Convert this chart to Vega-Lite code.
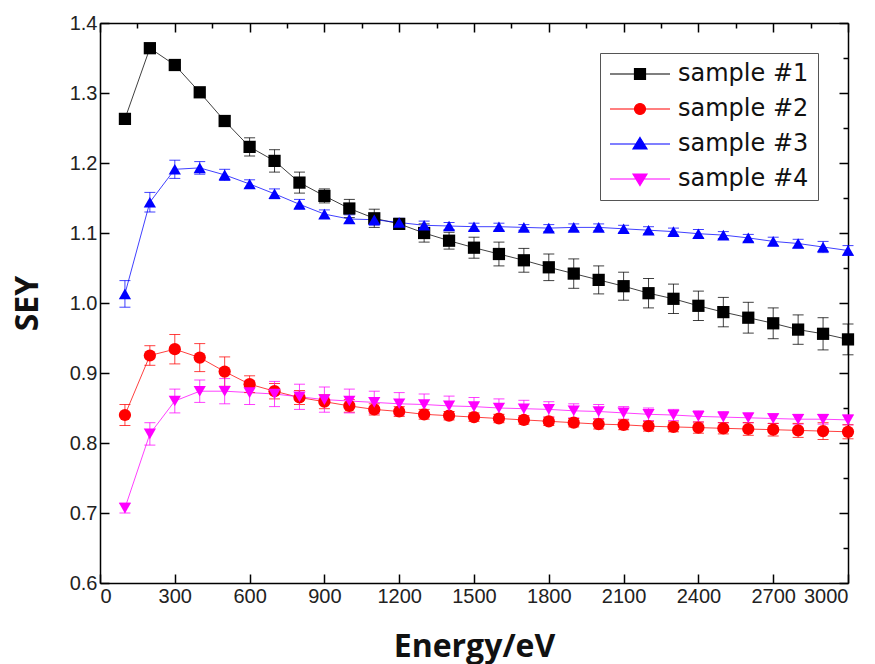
{
"$schema": "https://vega.github.io/schema/vega-lite/v6.json",
"width": 748, "height": 560,
"autosize": {"type": "none"},
"padding": {"left": 100, "top": 23, "right": 27, "bottom": 81},
"background": "white",
"data": {"values": [
{"s":"sample #1","e":100,"y":1.263,"lo":1.257,"hi":1.269},
{"s":"sample #1","e":200,"y":1.364,"lo":1.357,"hi":1.371},
{"s":"sample #1","e":300,"y":1.340,"lo":1.336,"hi":1.344},
{"s":"sample #1","e":400,"y":1.301,"lo":1.297,"hi":1.305},
{"s":"sample #1","e":500,"y":1.260,"lo":1.253,"hi":1.267},
{"s":"sample #1","e":600,"y":1.223,"lo":1.210,"hi":1.236},
{"s":"sample #1","e":700,"y":1.203,"lo":1.187,"hi":1.219},
{"s":"sample #1","e":800,"y":1.172,"lo":1.157,"hi":1.187},
{"s":"sample #1","e":900,"y":1.153,"lo":1.143,"hi":1.163},
{"s":"sample #1","e":1000,"y":1.135,"lo":1.122,"hi":1.148},
{"s":"sample #1","e":1100,"y":1.121,"lo":1.108,"hi":1.134},
{"s":"sample #1","e":1200,"y":1.113,"lo":1.107,"hi":1.119},
{"s":"sample #1","e":1300,"y":1.100,"lo":1.087,"hi":1.113},
{"s":"sample #1","e":1400,"y":1.089,"lo":1.077,"hi":1.101},
{"s":"sample #1","e":1500,"y":1.079,"lo":1.064,"hi":1.094},
{"s":"sample #1","e":1600,"y":1.070,"lo":1.053,"hi":1.087},
{"s":"sample #1","e":1700,"y":1.061,"lo":1.044,"hi":1.078},
{"s":"sample #1","e":1800,"y":1.051,"lo":1.032,"hi":1.070},
{"s":"sample #1","e":1900,"y":1.042,"lo":1.021,"hi":1.063},
{"s":"sample #1","e":2000,"y":1.033,"lo":1.013,"hi":1.053},
{"s":"sample #1","e":2100,"y":1.024,"lo":1.004,"hi":1.044},
{"s":"sample #1","e":2200,"y":1.014,"lo":0.993,"hi":1.035},
{"s":"sample #1","e":2300,"y":1.006,"lo":0.985,"hi":1.027},
{"s":"sample #1","e":2400,"y":0.996,"lo":0.975,"hi":1.017},
{"s":"sample #1","e":2500,"y":0.987,"lo":0.966,"hi":1.008},
{"s":"sample #1","e":2600,"y":0.979,"lo":0.957,"hi":1.001},
{"s":"sample #1","e":2700,"y":0.971,"lo":0.949,"hi":0.993},
{"s":"sample #1","e":2800,"y":0.962,"lo":0.941,"hi":0.983},
{"s":"sample #1","e":2900,"y":0.956,"lo":0.933,"hi":0.979},
{"s":"sample #1","e":3000,"y":0.948,"lo":0.926,"hi":0.970},
{"s":"sample #2","e":100,"y":0.840,"lo":0.825,"hi":0.855},
{"s":"sample #2","e":200,"y":0.925,"lo":0.911,"hi":0.939},
{"s":"sample #2","e":300,"y":0.934,"lo":0.913,"hi":0.955},
{"s":"sample #2","e":400,"y":0.922,"lo":0.902,"hi":0.942},
{"s":"sample #2","e":500,"y":0.902,"lo":0.881,"hi":0.923},
{"s":"sample #2","e":600,"y":0.884,"lo":0.872,"hi":0.896},
{"s":"sample #2","e":700,"y":0.874,"lo":0.863,"hi":0.885},
{"s":"sample #2","e":800,"y":0.865,"lo":0.855,"hi":0.875},
{"s":"sample #2","e":900,"y":0.859,"lo":0.849,"hi":0.869},
{"s":"sample #2","e":1000,"y":0.853,"lo":0.844,"hi":0.862},
{"s":"sample #2","e":1100,"y":0.848,"lo":0.840,"hi":0.856},
{"s":"sample #2","e":1200,"y":0.845,"lo":0.838,"hi":0.852},
{"s":"sample #2","e":1300,"y":0.841,"lo":0.834,"hi":0.848},
{"s":"sample #2","e":1400,"y":0.839,"lo":0.833,"hi":0.845},
{"s":"sample #2","e":1500,"y":0.837,"lo":0.831,"hi":0.843},
{"s":"sample #2","e":1600,"y":0.835,"lo":0.829,"hi":0.841},
{"s":"sample #2","e":1700,"y":0.833,"lo":0.827,"hi":0.839},
{"s":"sample #2","e":1800,"y":0.831,"lo":0.825,"hi":0.837},
{"s":"sample #2","e":1900,"y":0.829,"lo":0.823,"hi":0.835},
{"s":"sample #2","e":2000,"y":0.827,"lo":0.820,"hi":0.834},
{"s":"sample #2","e":2100,"y":0.826,"lo":0.819,"hi":0.833},
{"s":"sample #2","e":2200,"y":0.824,"lo":0.817,"hi":0.831},
{"s":"sample #2","e":2300,"y":0.823,"lo":0.816,"hi":0.830},
{"s":"sample #2","e":2400,"y":0.822,"lo":0.814,"hi":0.830},
{"s":"sample #2","e":2500,"y":0.821,"lo":0.813,"hi":0.829},
{"s":"sample #2","e":2600,"y":0.820,"lo":0.811,"hi":0.829},
{"s":"sample #2","e":2700,"y":0.819,"lo":0.810,"hi":0.828},
{"s":"sample #2","e":2800,"y":0.818,"lo":0.808,"hi":0.828},
{"s":"sample #2","e":2900,"y":0.817,"lo":0.805,"hi":0.829},
{"s":"sample #2","e":3000,"y":0.816,"lo":0.806,"hi":0.826},
{"s":"sample #3","e":100,"y":1.013,"lo":0.994,"hi":1.032},
{"s":"sample #3","e":200,"y":1.144,"lo":1.130,"hi":1.158},
{"s":"sample #3","e":300,"y":1.191,"lo":1.178,"hi":1.204},
{"s":"sample #3","e":400,"y":1.193,"lo":1.184,"hi":1.202},
{"s":"sample #3","e":500,"y":1.183,"lo":1.175,"hi":1.191},
{"s":"sample #3","e":600,"y":1.170,"lo":1.164,"hi":1.176},
{"s":"sample #3","e":700,"y":1.156,"lo":1.149,"hi":1.163},
{"s":"sample #3","e":800,"y":1.141,"lo":1.134,"hi":1.148},
{"s":"sample #3","e":900,"y":1.127,"lo":1.121,"hi":1.133},
{"s":"sample #3","e":1000,"y":1.120,"lo":1.114,"hi":1.126},
{"s":"sample #3","e":1100,"y":1.119,"lo":1.111,"hi":1.127},
{"s":"sample #3","e":1200,"y":1.115,"lo":1.109,"hi":1.121},
{"s":"sample #3","e":1300,"y":1.111,"lo":1.105,"hi":1.117},
{"s":"sample #3","e":1400,"y":1.110,"lo":1.105,"hi":1.115},
{"s":"sample #3","e":1500,"y":1.109,"lo":1.104,"hi":1.114},
{"s":"sample #3","e":1600,"y":1.109,"lo":1.104,"hi":1.114},
{"s":"sample #3","e":1700,"y":1.108,"lo":1.104,"hi":1.112},
{"s":"sample #3","e":1800,"y":1.107,"lo":1.102,"hi":1.112},
{"s":"sample #3","e":1900,"y":1.108,"lo":1.103,"hi":1.113},
{"s":"sample #3","e":2000,"y":1.108,"lo":1.103,"hi":1.113},
{"s":"sample #3","e":2100,"y":1.106,"lo":1.101,"hi":1.111},
{"s":"sample #3","e":2200,"y":1.104,"lo":1.099,"hi":1.109},
{"s":"sample #3","e":2300,"y":1.102,"lo":1.097,"hi":1.107},
{"s":"sample #3","e":2400,"y":1.099,"lo":1.093,"hi":1.105},
{"s":"sample #3","e":2500,"y":1.097,"lo":1.092,"hi":1.102},
{"s":"sample #3","e":2600,"y":1.093,"lo":1.088,"hi":1.098},
{"s":"sample #3","e":2700,"y":1.088,"lo":1.082,"hi":1.094},
{"s":"sample #3","e":2800,"y":1.085,"lo":1.079,"hi":1.091},
{"s":"sample #3","e":2900,"y":1.080,"lo":1.072,"hi":1.088},
{"s":"sample #3","e":3000,"y":1.075,"lo":1.068,"hi":1.082},
{"s":"sample #4","e":100,"y":0.707,"lo":0.700,"hi":0.714},
{"s":"sample #4","e":200,"y":0.813,"lo":0.797,"hi":0.829},
{"s":"sample #4","e":300,"y":0.860,"lo":0.843,"hi":0.877},
{"s":"sample #4","e":400,"y":0.874,"lo":0.858,"hi":0.890},
{"s":"sample #4","e":500,"y":0.874,"lo":0.856,"hi":0.892},
{"s":"sample #4","e":600,"y":0.872,"lo":0.855,"hi":0.889},
{"s":"sample #4","e":700,"y":0.870,"lo":0.852,"hi":0.888},
{"s":"sample #4","e":800,"y":0.866,"lo":0.848,"hi":0.884},
{"s":"sample #4","e":900,"y":0.862,"lo":0.844,"hi":0.880},
{"s":"sample #4","e":1000,"y":0.860,"lo":0.843,"hi":0.877},
{"s":"sample #4","e":1100,"y":0.858,"lo":0.842,"hi":0.874},
{"s":"sample #4","e":1200,"y":0.856,"lo":0.840,"hi":0.872},
{"s":"sample #4","e":1300,"y":0.855,"lo":0.840,"hi":0.870},
{"s":"sample #4","e":1400,"y":0.853,"lo":0.839,"hi":0.867},
{"s":"sample #4","e":1500,"y":0.852,"lo":0.839,"hi":0.865},
{"s":"sample #4","e":1600,"y":0.850,"lo":0.837,"hi":0.863},
{"s":"sample #4","e":1700,"y":0.849,"lo":0.837,"hi":0.861},
{"s":"sample #4","e":1800,"y":0.848,"lo":0.837,"hi":0.859},
{"s":"sample #4","e":1900,"y":0.846,"lo":0.836,"hi":0.856},
{"s":"sample #4","e":2000,"y":0.845,"lo":0.835,"hi":0.855},
{"s":"sample #4","e":2100,"y":0.843,"lo":0.834,"hi":0.852},
{"s":"sample #4","e":2200,"y":0.841,"lo":0.832,"hi":0.850},
{"s":"sample #4","e":2300,"y":0.840,"lo":0.832,"hi":0.848},
{"s":"sample #4","e":2400,"y":0.838,"lo":0.830,"hi":0.846},
{"s":"sample #4","e":2500,"y":0.837,"lo":0.829,"hi":0.845},
{"s":"sample #4","e":2600,"y":0.836,"lo":0.829,"hi":0.843},
{"s":"sample #4","e":2700,"y":0.835,"lo":0.828,"hi":0.842},
{"s":"sample #4","e":2800,"y":0.834,"lo":0.827,"hi":0.841},
{"s":"sample #4","e":2900,"y":0.834,"lo":0.827,"hi":0.841},
{"s":"sample #4","e":3000,"y":0.833,"lo":0.826,"hi":0.840}
]},
"config": {
  "view": {"stroke": null},
  "axis": {"domainColor": "#000", "domainWidth": 1.5, "tickColor": "#000", "tickWidth": 1.5, "labelFont": "Liberation Sans", "labelFontSize": 20, "labelColor": "#222", "grid": false, "titleFont": "Open Sans", "titleFontWeight": "bold", "titleFontSize": 32, "titleColor": "#111"},
  "legend": {"title": null, "orient": "top-right", "offset": 30, "strokeColor": "#555", "padding": 9,
    "labelFont": "DejaVu Sans", "labelFontSize": 24, "labelColor": "#111",
    "symbolSize": 400, "symbolStrokeWidth": 1.2, "symbolOffset": 19, "labelOffset": 26, "rowPadding": 11, "symbolOpacity": 1}
},
"layer": [
 {
  "layer": [
   {
    "layer": [
     {"mark": {"type": "line", "strokeWidth": 1, "opacity": 0.75},
      "encoding": {
        "x": {"field": "e", "type": "quantitative", "title": "Energy/eV", "scale": {"domain": [0, 3000], "nice": false},
          "axis": {"orient": "bottom", "format": "d",
            "values": [0,150,300,450,600,750,900,1050,1200,1350,1500,1650,1800,1950,2100,2250,2400,2550,2700,2850,3000],
            "labelExpr": "datum.value % 300 === 0 ? format(datum.value, 'd') : ''",
            "tickSize": {"condition": {"test": "datum.value % 300 === 0", "value": -9}, "value": -5},
            "labelPadding": 12, "titlePadding": 25}},
        "y": {"field": "y", "type": "quantitative", "title": "SEY", "scale": {"domain": [0.6, 1.4], "nice": false, "zero": false},
          "axis": {"orient": "left",
            "values": [0.6,0.65,0.7,0.75,0.8,0.85,0.9,0.95,1.0,1.05,1.1,1.15,1.2,1.25,1.3,1.35,1.4],
            "labelExpr": "round(datum.value*100) % 10 === 0 ? format(datum.value, '.1f') : ''",
            "tickSize": {"condition": {"test": "round(datum.value*100) % 10 === 0", "value": -9}, "value": -5},
            "labelPadding": 12, "titlePadding": 25}},
        "color": {"field": "s", "type": "nominal", "legend": null,
          "scale": {"domain": ["sample #1", "sample #2", "sample #3", "sample #4"], "range": ["#000000", "#ff0000", "#0000ff", "#ff00ff"]}},
        "detail": {"field": "s"}
      }},
     {"mark": {"type": "errorbar", "ticks": true, "size": 11, "thickness": 1, "opacity": 0.75},
      "encoding": {
        "x": {"field": "e", "type": "quantitative", "title": "Energy/eV"},
        "y": {"field": "lo", "type": "quantitative", "title": "SEY"},
        "y2": {"field": "hi"},
        "color": {"field": "s", "type": "nominal", "legend": null}
      }},
     {"mark": {"type": "point", "filled": true, "size": 150, "opacity": 1},
      "encoding": {
        "x": {"field": "e", "type": "quantitative", "title": "Energy/eV"},
        "y": {"field": "y", "type": "quantitative", "title": "SEY"},
        "shape": {"field": "s", "type": "nominal", "legend": null,
          "scale": {"domain": ["sample #1", "sample #2", "sample #3", "sample #4"], "range": ["square", "circle", "triangle-up", "triangle-down"]}},
        "color": {"field": "s", "type": "nominal", "legend": null}
      }}
    ]
   },
   {"transform": [{"filter": "false"}],
    "mark": {"type": "point", "opacity": 1, "strokeWidth": 1.2},
    "encoding": {
      "fill": {"field": "s", "type": "nominal",
        "scale": {"domain": ["sample #1", "sample #2", "sample #3", "sample #4"], "range": ["#000000", "#ff0000", "#0000ff", "#ff00ff"]}},
      "stroke": {"field": "s", "type": "nominal",
        "scale": {"domain": ["sample #1", "sample #2", "sample #3", "sample #4"], "range": ["#000000", "#ff0000", "#0000ff", "#ff00ff"]}},
      "shape": {"field": "s", "type": "nominal",
        "scale": {"domain": ["sample #1", "sample #2", "sample #3", "sample #4"],
          "range": ["M-3,0H3M-0.55,-0.55H0.55V0.55H-0.55Z", "M-3,0H3M-0.55,0A0.55,0.55 0 1,0 0.55,0A0.55,0.55 0 1,0 -0.55,0Z", "M-3,0H3M0,-0.65L0.7,0.5H-0.7Z", "M-3,0H3M0,0.65L0.7,-0.5H-0.7Z"]}}
    }}
  ],
  "resolve": {"scale": {"shape": "independent", "fill": "independent", "stroke": "independent", "color": "independent"}}
 },
 {"mark": {"type": "point", "opacity": 0},
  "encoding": {
    "x": {"field": "e", "type": "quantitative",
      "axis": {"orient": "top", "title": null, "labels": false,
        "values": [0,150,300,450,600,750,900,1050,1200,1350,1500,1650,1800,1950,2100,2250,2400,2550,2700,2850,3000],
        "tickSize": {"condition": {"test": "datum.value % 300 === 0", "value": -9}, "value": -5}}},
    "y": {"field": "y", "type": "quantitative",
      "axis": {"orient": "right", "title": null, "labels": false,
        "values": [0.6,0.65,0.7,0.75,0.8,0.85,0.9,0.95,1.0,1.05,1.1,1.15,1.2,1.25,1.3,1.35,1.4],
        "tickSize": {"condition": {"test": "round(datum.value*100) % 10 === 0", "value": -9}, "value": -5}}}
  }}
],
"resolve": {"axis": {"x": "independent", "y": "independent"}}
}
